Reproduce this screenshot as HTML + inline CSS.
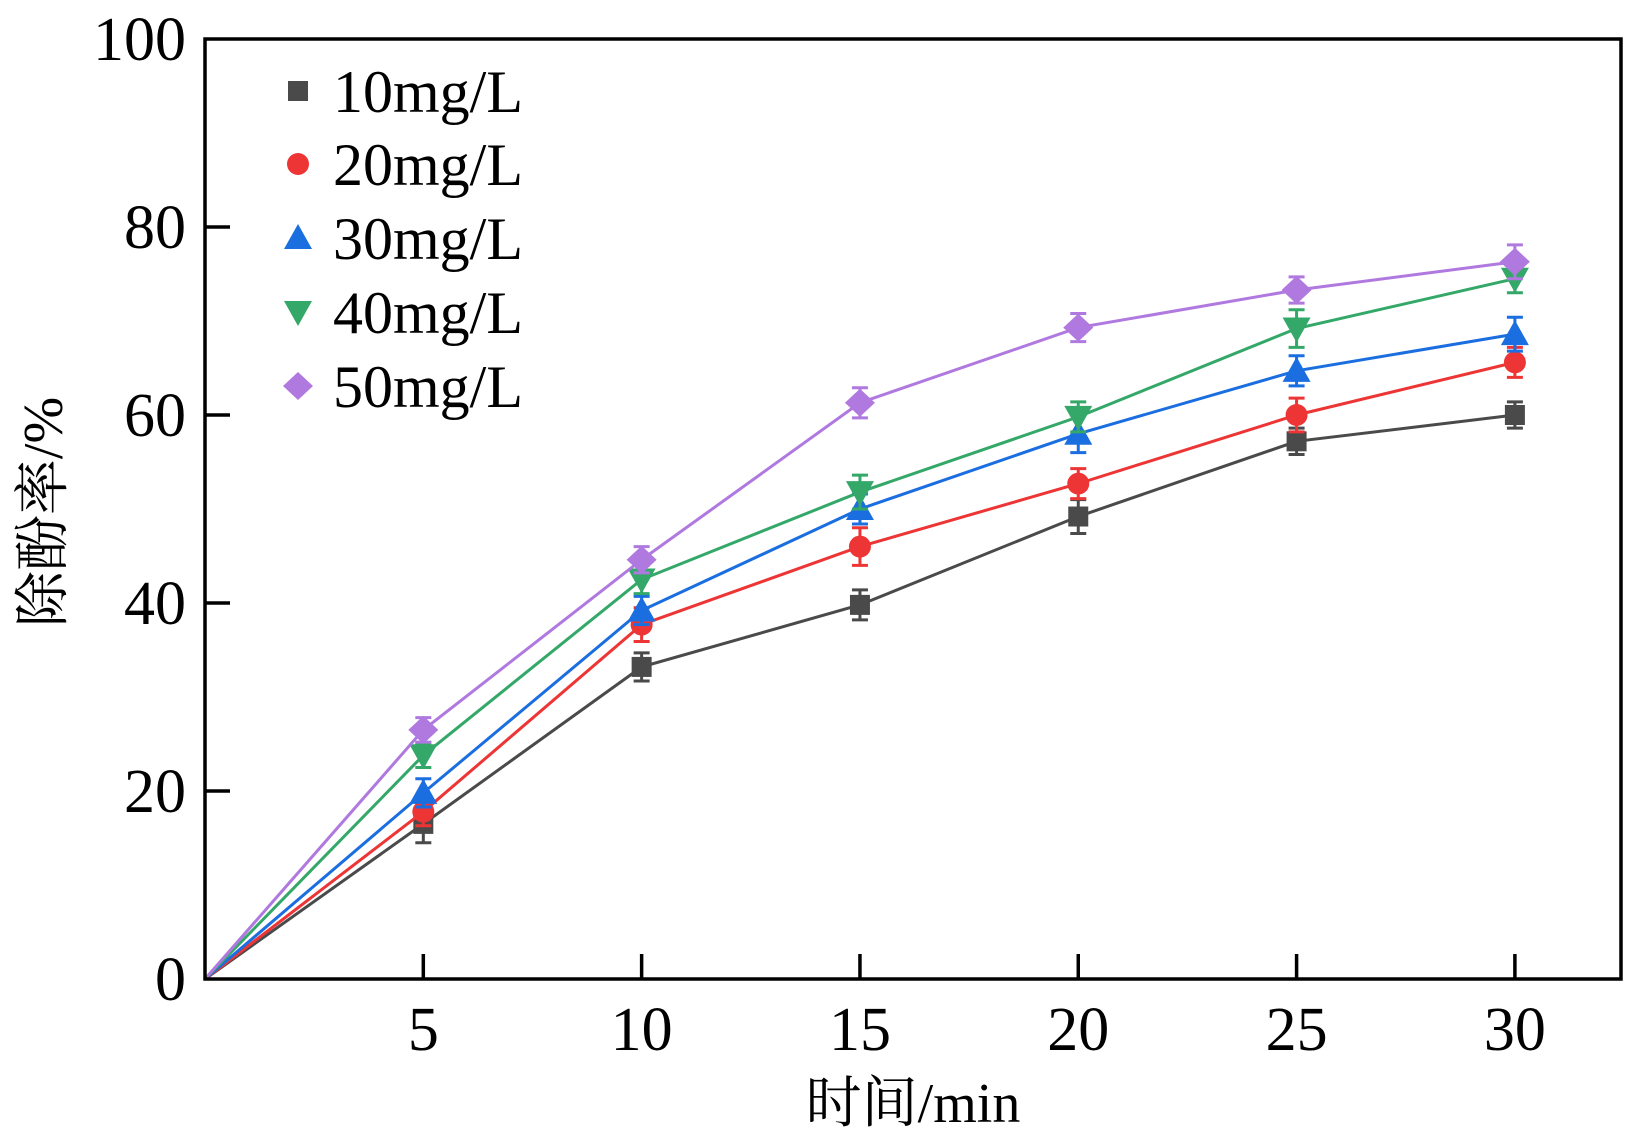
<!DOCTYPE html>
<html><head><meta charset="utf-8"><style>
html,body{margin:0;padding:0;background:#fff;}
svg{display:block;}
</style></head><body>
<svg id="chart" width="1636" height="1139" viewBox="0 0 1636 1139" xmlns="http://www.w3.org/2000/svg"></svg>
<script>
const xValues=[0,5,10,15,20,25,30];
const seriesNames=["10mg/L","20mg/L","30mg/L","40mg/L","50mg/L"];
const s10=[0,16.5,33.2,39.8,49.2,57.2,60.0];
const s20=[0,17.8,37.7,46.0,52.7,60.0,65.6];
const s30=[0,19.8,39.2,50.0,58.0,64.7,68.6];
const s40=[0,23.8,42.5,51.8,59.8,69.2,74.5];
const s50=[0,26.5,44.6,61.3,69.3,73.3,76.3];
const e10=[0,2.0,1.5,1.6,1.8,1.4,1.4];
const e20=[0,1.5,1.8,2.0,1.6,1.8,1.6];
const e30=[0,1.5,1.5,1.6,2.0,1.6,1.8];
const e40=[0,1.3,1.5,1.8,1.6,2.0,1.5];
const e50=[0,1.3,1.4,1.6,1.5,1.4,1.8];
const xTicks=[5,10,15,20,25,30];
const yTicks=[0,20,40,60,80,100];

const NS="http://www.w3.org/2000/svg";
const FONT='"Liberation Serif","Times New Roman",Times,"Noto Serif CJK SC",serif';
const svg=document.getElementById('chart');
const L=205,R=1621,T=39,B=979,xMax=32.43;
const X=v=>L+(v/xMax)*(R-L);
const Y=v=>B-(v/100)*(B-T);
function mk(tag,attrs,parent){const e=document.createElementNS(NS,tag);for(const k in attrs)e.setAttribute(k,attrs[k]);(parent||svg).appendChild(e);return e;}

const colors=["#4a4a4a","#ee3535","#1b6ee0","#34a868","#b079e0"];
const shapes=["square","circle","up","down","diamond"];
const allS=[s10,s20,s30,s40,s50], allE=[e10,e20,e30,e40,e50];

function marker(shape,cx,cy,c,parent){
  let e;
  if(shape==="square") e=mk('rect',{x:cx-10,y:cy-10,width:20,height:20,fill:c},parent);
  else if(shape==="circle") e=mk('circle',{cx:cx,cy:cy,r:11,fill:c},parent);
  else if(shape==="up") e=mk('polygon',{points:`${cx},${cy-14} ${cx+14},${cy+11} ${cx-14},${cy+11}`,fill:c},parent);
  else if(shape==="down") e=mk('polygon',{points:`${cx},${cy+14} ${cx+14},${cy-11} ${cx-14},${cy-11}`,fill:c},parent);
  else e=mk('polygon',{points:`${cx},${cy-14} ${cx+15},${cy} ${cx},${cy+14} ${cx-15},${cy}`,fill:c},parent);
  return e;
}

allS.forEach((s,i)=>{
  const g=mk('g',{});
  
  
  const pts=s.map((v,j)=>X(xValues[j])+','+Y(v)).join(' ');
  const pl=mk('polyline',{points:pts,fill:'none',stroke:colors[i],'stroke-width':3},g);
  
  
  s.forEach((v,j)=>{
    if(j===0) return;
    const cx=X(xValues[j]), e=allE[i][j];
    const eb=mk('path',{d:`M${cx},${Y(v+e)}V${Y(v-e)}M${cx-8},${Y(v+e)}H${cx+8}M${cx-8},${Y(v-e)}H${cx+8}`,stroke:colors[i],'stroke-width':3,fill:'none'},g);
    
    
    const m=marker(shapes[i],cx,Y(v),colors[i],g);
    
    
  });
});

const fr=mk('rect',{x:L,y:T,width:R-L,height:B-T,fill:'none',stroke:'#000','stroke-width':3.5});



xTicks.forEach(v=>{
  const t=mk('line',{x1:X(v),x2:X(v),y1:B,y2:B-25,stroke:'#000','stroke-width':3.5});
  
  
  const l=mk('text',{x:X(v),y:1050,'text-anchor':'middle','font-size':62,'font-family':FONT});
  l.textContent=v;
  
  
});
yTicks.forEach(v=>{
  if(v>0&&v<100){
  const t=mk('line',{x1:L,x2:L+25,y1:Y(v),y2:Y(v),stroke:'#000','stroke-width':3.5});
  
  }
  const l=mk('text',{x:186,y:Y(v)+21,'text-anchor':'end','font-size':62,'font-family':FONT});
  l.textContent=v;
  
  
});

const xt=mk('text',{x:913,y:1122,'text-anchor':'middle','font-size':56,'font-family':FONT});
xt.textContent='时间/min';


const yt=mk('text',{x:0,y:0,'text-anchor':'middle','font-size':56,'font-family':FONT,transform:'translate(62,512) rotate(-90)'});
yt.textContent='除酚率/%';



const lg=mk('g',{});


const ly=[91,164,238,312,386];
seriesNames.forEach((n,i)=>{
  const g=mk('g',{},lg);
  
  
  const m=marker(shapes[i],298,ly[i],colors[i],g);
  
  
  const t=mk('text',{x:333,y:ly[i]+21,'font-size':60,'font-family':FONT},g);
  t.textContent=n;
  
  
});
</script>
</body></html>
